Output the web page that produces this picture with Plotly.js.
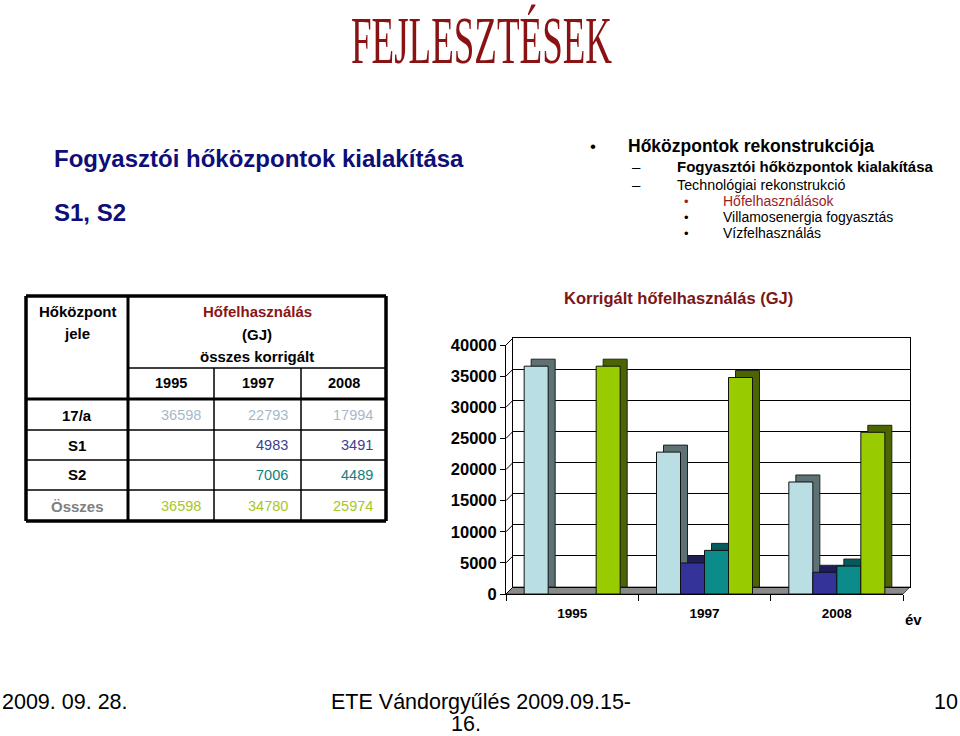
<!DOCTYPE html>
<html>
<head>
<meta charset="utf-8">
<script src="https://cdn.plot.ly/plotly-3.0.1.min.js"></script>
<style>
html,body{margin:0;padding:0;background:#fff;}
#chart{width:960px;height:736px;}
</style>
</head>
<body>
<div id="chart"></div>
<script>
// ---------- data ----------
const years = ['1995', '1997', '2008'];
const seriesNames = ['17/a', 'S1', 'S2', 'Összes'];
const v17a = [36598, 22793, 17994];
const vS1 = [null, 4983, 3491];
const vS2 = [null, 7006, 4489];
const vOsszes = [36598, 34780, 25974];
const yTicks = [0, 5000, 10000, 15000, 20000, 25000, 30000, 35000, 40000];

const slideTitle = 'FEJLESZTÉSEK';
const leftTitle = ['Fogyasztói hőközpontok kialakítása', 'S1, S2'];
const chartTitle = 'Korrigált hőfelhasználás (GJ)';
const axisUnit = 'év';
const footer = ['2009. 09. 28.', 'ETE Vándorgyűlés 2009.09.15-', '16.', '10'];

// ---------- styles ----------
const W = 960, H = 736;
const SANS = 'Liberation Sans, Arial, Helvetica, sans-serif';
const frontColors = ['#b9dfe4', '#333399', '#0c8b8b', '#99cc00'];
const sideColors = ['#5e7276', '#1d1d5e', '#055b5b', '#4b6600'];
const valueColors = ['#a7b9c9', '#3d3d8f', '#11807d', '#a9c627'];

const px = x => x / W;
const py = y => 1 - y / H;

// plot geometry (pixels)
const FRONT = {l: 506, r: 903, t: 345, b: 594};
const DEPTH = 7;
const BACK = {l: FRONT.l + DEPTH, r: FRONT.r + DEPTH, t: FRONT.t - DEPTH, b: FRONT.b - DEPTH};
const YMAX = 40000;
const unitPx = (FRONT.r - FRONT.l) / years.length;
const depthX = DEPTH / unitPx;
const depthY = DEPTH * YMAX / (FRONT.b - FRONT.t);
const barW = 24 / unitPx;

const allSeries = [v17a, vS1, vS2, vOsszes];
const traces = [];
// back wall subplot dummy
traces.push({type: 'scatter', x: [0.5], y: [0], xaxis: 'x', yaxis: 'y', mode: 'none', hoverinfo: 'skip', showlegend: false});
allSeries.forEach((vals, k) => {
  const off = -2 * barW + k * barW;
  traces.push({
    type: 'bar', x: years, y: vals, base: depthY, xaxis: 'x2', yaxis: 'y2',
    offset: off + depthX, width: barW, name: seriesNames[k] + ' (3D)',
    marker: {color: sideColors[k], line: {color: '#222', width: 1}},
    showlegend: false, hoverinfo: 'skip'
  });
  traces.push({
    type: 'bar', x: years, y: vals, xaxis: 'x2', yaxis: 'y2',
    offset: off, width: barW, name: seriesNames[k],
    marker: {color: frontColors[k], line: {color: '#111', width: 1}},
    showlegend: false
  });
});

// ---------- annotations ----------
const ann = [];
function txt(text, x, y, o) {
  o = o || {};
  ann.push({
    text: text, x: px(x), y: py(y), xref: 'paper', yref: 'paper', showarrow: false,
    xanchor: o.xa || 'left', yanchor: o.ya || 'middle',
    font: {family: o.family || SANS, size: o.size || 14, color: o.color || '#000', weight: o.bold ? 'bold' : 'normal'}
  });
  return ann.length - 1;
}
const titleIdx = txt(slideTitle, 481, 0, {xa: 'center', ya: 'top', family: 'Liberation Serif, Times New Roman, serif', size: 37, color: '#8a1212'});

// left title
const navy = '#0e0e78';
txt(leftTitle[0], 52, 158, {size: 24, bold: true, color: navy});
txt(leftTitle[1], 52, 212, {size: 24, bold: true, color: navy});

// right bullets
txt('•', 588, 146, {size: 17});
txt('Hőközpontok rekonstrukciója', 626, 146, {size: 17.5, bold: true});
txt('–', 630, 166, {size: 15});
txt('Fogyasztói hőközpontok kialakítása', 675, 166, {size: 15, bold: true});
txt('–', 630, 185, {size: 15});
txt('Technológiai rekonstrukció', 675, 185, {size: 14.3});
txt('•', 682, 201, {size: 13, color: '#9b1c1c'});
txt('Hőfelhasználások', 721, 201, {size: 14, color: '#9b1c1c'});
txt('•', 682, 217, {size: 13});
txt('Villamosenergia fogyasztás', 721, 217, {size: 14});
txt('•', 682, 233, {size: 13});
txt('Vízfelhasználás', 721, 233, {size: 14});

// table text
const tabCols = [26, 128, 214, 301, 386];
const rowCenters = [415, 445, 475, 506];
txt('Hőközpont', 77, 311, {xa: 'center', size: 15, bold: true});
txt('jele', 77, 333, {xa: 'center', size: 15, bold: true});
txt('Hőfelhasználás', 257, 311, {xa: 'center', size: 15, bold: true, color: '#8b1515'});
txt('(GJ)', 257, 334, {xa: 'center', size: 15, bold: true});
txt('összes korrigált', 257, 356, {xa: 'center', size: 15, bold: true});
years.forEach((yr, j) => txt(yr, (tabCols[j + 1] + tabCols[j + 2]) / 2, 383, {xa: 'center', size: 14.5, bold: true}));
seriesNames.forEach((nm, k) => {
  txt(nm, 77, rowCenters[k], {xa: 'center', size: 15, bold: true, color: k === 3 ? '#808080' : '#000'});
  allSeries[k].forEach((v, j) => {
    if (v !== null) txt(String(v), tabCols[j + 2] - 11, rowCenters[k], {xa: 'right', size: 14.5, color: valueColors[k]});
  });
});

// chart title & unit
txt(chartTitle, 678, 298, {xa: 'center', size: 16.5, bold: true, color: '#7c1515'});
txt(axisUnit, 913, 619, {xa: 'center', size: 15, bold: true});

// footer
txt(footer[0], 0, 702, {size: 21.5});
txt(footer[1], 481, 702, {xa: 'center', size: 21.5});
txt(footer[2], 466, 724, {xa: 'center', size: 21.5});
txt(footer[3], 960, 702, {xa: 'right', size: 21.5});

// ---------- shapes ----------
const shapes = [];
function line(x0, y0, x1, y1, w) {
  shapes.push({type: 'line', xref: 'paper', yref: 'paper', x0: px(x0), y0: py(y0), x1: px(x1), y1: py(y1),
    line: {color: '#000', width: w}});
}
// table
line(26, 296, 386, 296, 3.5); line(26, 521, 386, 521, 3.5);
line(26, 296, 26, 521, 3.5); line(386, 296, 386, 521, 3.5);
line(128, 296, 128, 521, 3);
line(128, 368, 386, 368, 1.5);
line(26, 399, 386, 399, 3);
[430, 460, 490].forEach(y => line(26, y, 386, y, 1.5));
[214, 301].forEach(x => line(x, 368, x, 521, 1.5));

// floor
shapes.push({type: 'path', xref: 'paper', yref: 'paper', layer: 'below',
  path: `M ${px(FRONT.l)} ${py(FRONT.b)} L ${px(BACK.l)} ${py(BACK.b)} L ${px(BACK.r)} ${py(BACK.b)} L ${px(FRONT.r)} ${py(FRONT.b)} Z`,
  fillcolor: '#8a8a8a', line: {color: '#333', width: 0.8}});
// left side wall diagonals
yTicks.forEach(v => {
  const f = FRONT.b - v / YMAX * (FRONT.b - FRONT.t);
  line(FRONT.l, f, BACK.l, f - DEPTH, 1);
});

const layout = {
  width: W, height: H,
  margin: {l: 0, r: 0, t: 0, b: 0},
  paper_bgcolor: '#fff', plot_bgcolor: 'rgba(0,0,0,0)',
  showlegend: false, barmode: 'overlay',
  font: {family: SANS},
  xaxis: {domain: [px(BACK.l), px(BACK.r)], range: [0, 1], showgrid: false, zeroline: false,
    showticklabels: false, ticks: '', showline: true, mirror: true, linecolor: '#000', linewidth: 1, fixedrange: true},
  yaxis: {domain: [py(BACK.b), py(BACK.t)], range: [0, YMAX], tickvals: yTicks, showgrid: true, gridcolor: '#000',
    gridwidth: 1, zeroline: false, showticklabels: false, ticks: '', showline: true, mirror: true,
    linecolor: '#000', linewidth: 1, fixedrange: true},
  xaxis2: {domain: [px(FRONT.l), px(FRONT.r)], anchor: 'y2', type: 'category', range: [-0.5, 2.5],
    showgrid: false, zeroline: false, showline: true, linecolor: '#000', linewidth: 1,
    ticks: 'outside', tickson: 'boundaries', ticklen: 6, tickcolor: '#000', ticklabelstandoff: 7,
    tickfont: {family: SANS, size: 13.5, color: '#000', weight: 'bold'}, fixedrange: true},
  yaxis2: {domain: [py(FRONT.b), py(FRONT.t)], anchor: 'x2', range: [0, YMAX], tickvals: yTicks, tickformat: 'd',
    showgrid: false, zeroline: false, showline: true, linecolor: '#000', linewidth: 1,
    ticks: 'outside', ticklen: 5, tickcolor: '#000',
    tickfont: {family: SANS, size: 16.5, color: '#000', weight: 'bold'}, fixedrange: true},
  annotations: ann,
  shapes: shapes
};

Plotly.newPlot('chart', traces, layout, {displayModeBar: false, staticPlot: true}).then(gd => {
  const g = gd.querySelector(`g.annotation[data-index="${titleIdx}"] text`);
  if (g) {
    g.style.transformBox = 'fill-box';
    g.style.transformOrigin = 'center top';
    g.style.transform = 'scaleY(1.85)';
  }
});
</script>
</body>
</html>
